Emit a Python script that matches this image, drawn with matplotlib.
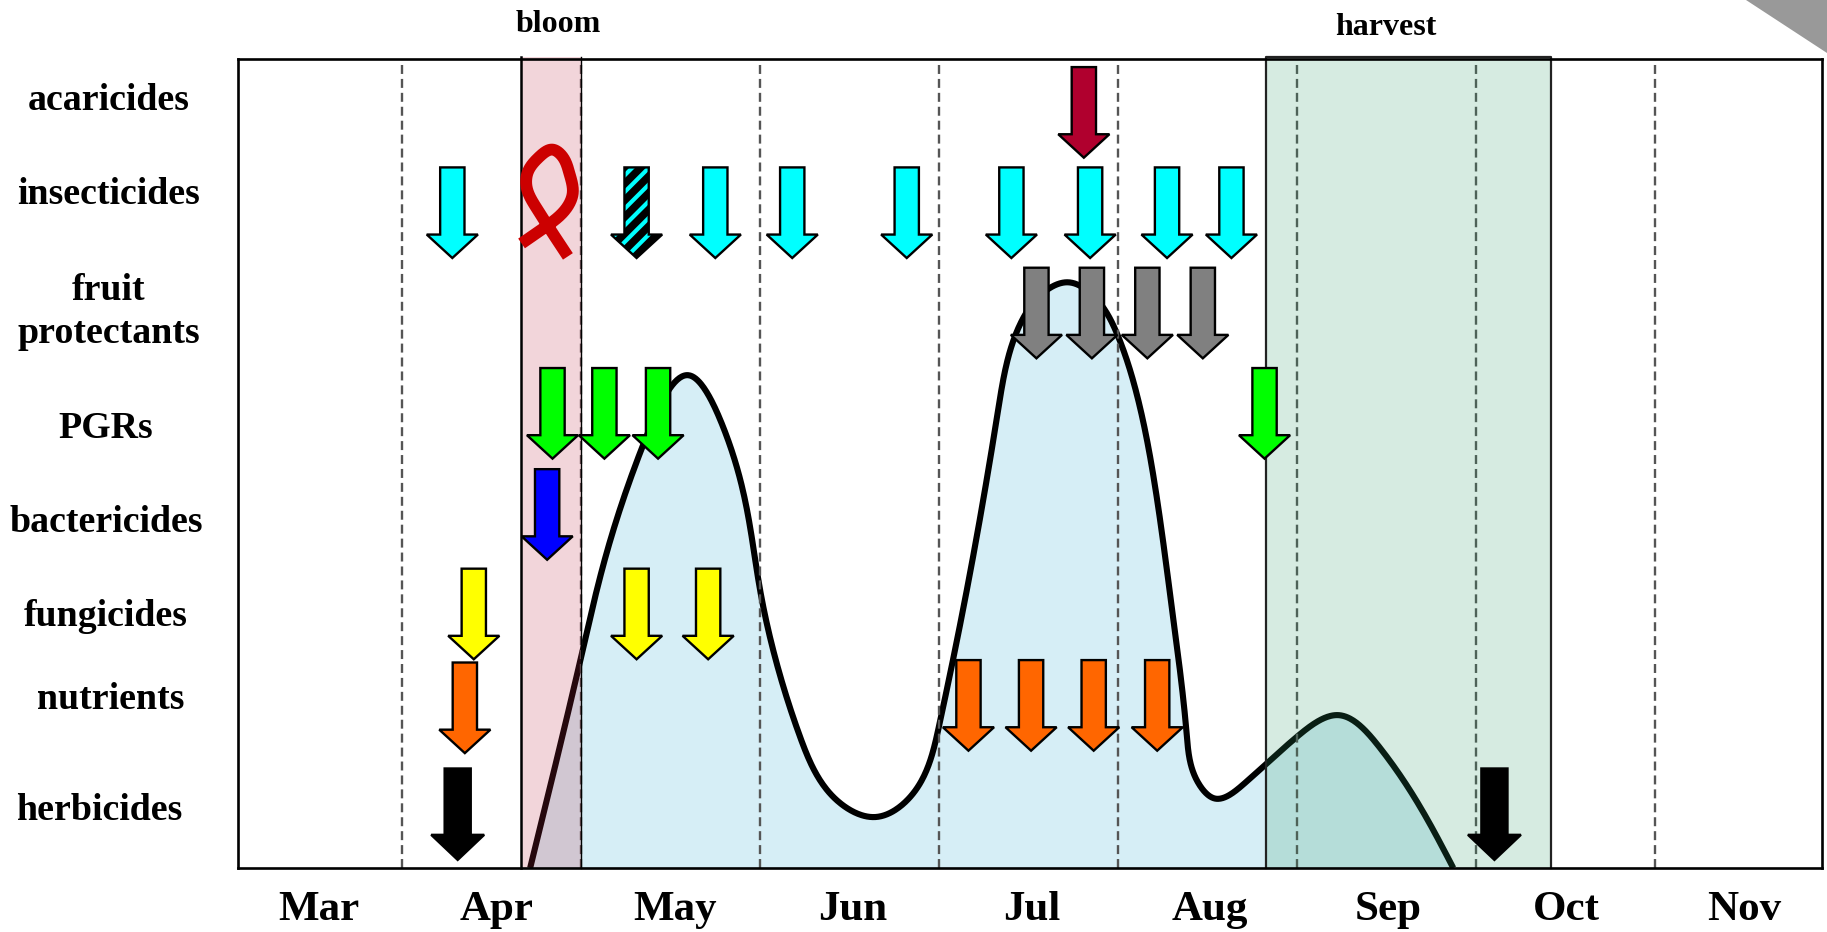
import numpy as np
import matplotlib
matplotlib.use("Agg")
import matplotlib.pyplot as plt
from matplotlib.patches import Polygon

plt.rcParams['font.family'] = ['Liberation Serif', 'DejaVu Serif']
plt.rcParams['hatch.linewidth'] = 3.0

months = ['Mar', 'Apr', 'May', 'Jun', 'Jul', 'Aug', 'Sep', 'Oct', 'Nov']
month_centers = [0.531, 1.527, 2.523, 3.52, 4.516, 5.512, 6.509, 7.505, 8.501]
month_bounds = [1, 2, 3, 4, 5, 6, 7, 8]

curve_x = [1.715, 2.00, 2.35, 2.604, 2.794, 3.00, 3.224, 3.449, 3.645, 3.84, 4.00,
           4.196, 4.33, 4.46, 4.60, 4.72, 4.85, 5.00, 5.11, 5.205, 5.30, 5.385, 5.45, 5.54, 5.71,
           6.00, 6.23, 6.46, 6.875]
curve_y = [0, 26.1, 52.5, 60.9, 54.5, 34.4, 16.2, 8.0, 6.3, 8.8, 17.5,
           39.1, 56.5, 67.5, 71.4, 72.4, 71.0, 65.8, 58.2, 47.6, 32.5, 16.5, 10.5, 8.6, 10.5,
           16.2, 18.9, 15.0, 0]

bloom = (1.665, 2.0)
harvest = (5.83, 7.42)

# (month position, arrow tip height)
acaricides = [(4.81, 87.8)]
insecticides = [(1.28, 75.4), (2.75, 75.4), (3.18, 75.4), (3.82, 75.4), (4.405, 75.4),
                (4.845, 75.4), (5.275, 75.4), (5.635, 75.4)]
insecticides_hatched = [(2.31, 75.4)]
fruit_protectants = [(4.545, 63.0), (4.855, 63.0), (5.165, 63.0), (5.475, 63.0)]
pgrs = [(1.84, 50.6), (2.13, 50.6), (2.43, 50.6), (5.82, 50.6)]
bactericides = [(1.81, 38.1)]
fungicides = [(1.40, 25.8), (2.31, 25.8), (2.71, 25.8)]
nutrients = [(1.35, 14.2), (4.165, 14.5), (4.515, 14.5), (4.865, 14.5), (5.22, 14.5)]
herbicides = [(1.31, 1.0), (7.105, 1.0)]

ribbon_x = [1.667, 1.804, 1.916, 1.953, 1.934, 1.897, 1.84, 1.766, 1.70, 1.695, 1.747, 1.822, 1.926]
ribbon_y = [77.2, 79.3, 81.5, 83.4, 85.9, 87.9, 88.8, 87.9, 85.9, 84.2, 81.7, 79.1, 75.6]

row_labels = [('acaricides', 93, 86), ('insecticides', 93, 167), ('fruit\nprotectants', 93, 268),
              ('PGRs', 91, 368), ('bactericides', 91, 448), ('fungicides', 91, 529),
              ('nutrients', 95, 600), ('herbicides', 85, 696)]

W, H = 1827, 932
fig = plt.figure(figsize=(W / 100, H / 100), dpi=100)
L, R, T, B = 238, 1822, 59, 868
ax = fig.add_axes([L / W, 1 - B / H, (R - L) / W, (B - T) / H])
ax.set_xlim(0.082, 8.936)
ax.set_ylim(0, 100)

# corner triangle
fig.add_artist(Polygon([(1746 / W, 1), (1, 1 - 53 / H), (1, 1)], closed=True,
                       transform=fig.transFigure, fc='#999999', ec='none'))


def smooth(x, y, n=40):
    # natural C2 cubic spline through the read points, parametrised by on-screen chord length
    p = np.column_stack([x, y])
    h = np.linalg.norm(np.diff(p, axis=0) * np.array([178.3, 8.09]), axis=1)
    k = len(p)
    A = np.zeros((k, k))
    b = np.zeros((k, 2))
    A[0, 0] = A[-1, -1] = 1
    for i in range(1, k - 1):
        A[i, i - 1], A[i, i], A[i, i + 1] = h[i - 1], 2 * (h[i - 1] + h[i]), h[i]
        b[i] = 6 * ((p[i + 1] - p[i]) / h[i] - (p[i] - p[i - 1]) / h[i - 1])
    M = np.linalg.solve(A, b)
    out = []
    for i in range(k - 1):
        t = np.linspace(0, 1, n, endpoint=False)[:, None]
        out.append((1 - t) * p[i] + t * p[i + 1]
                   + h[i] ** 2 / 6 * (((1 - t) ** 3 - (1 - t)) * M[i] + (t ** 3 - t) * M[i + 1]))
    out.append(p[-1:])
    return np.vstack(out)


sm = smooth(curve_x, curve_y)
ax.fill(sm[:, 0], np.clip(sm[:, 1], 0, None), fc='#32AAD2', alpha=0.2, ec='none', zorder=1)
ax.plot(sm[:, 0], sm[:, 1], color='black', lw=4.4, zorder=2, solid_capstyle='butt')

for m in month_bounds:
    ax.axvline(m, color='#555555', lw=1.7, ls=(0, (3.8, 2.1)), zorder=2.5)

ax.axvspan(*bloom, ymin=0, ymax=1.003, fc='#BE2D46', alpha=0.2, ec='none', zorder=3, clip_on=False)
ax.axvspan(*harvest, ymin=0, ymax=1.003, fc='#329B69', alpha=0.2, ec='none', zorder=3, clip_on=False)
ax.plot([bloom[0], bloom[0]], [0, 100.3], color='black', lw=1.8, zorder=3.5, clip_on=False)
ax.plot([bloom[1], bloom[1]], [0, 100.3], color='black', lw=1.0, zorder=3.5, clip_on=False)
ax.plot([harvest[0], harvest[0], harvest[1], harvest[1]], [0, 100.3, 100.3, 0],
        color='#222222', lw=1.6, zorder=3.5, clip_on=False)


def arrow(xm, tip, fc, big=False, stripes=False):
    sw, hw, hl, tl = (0.073, 0.148, 3.1, 11.3) if big else (0.068, 0.143, 2.9, 11.2)
    pts = [(xm - sw, tip + tl), (xm + sw, tip + tl), (xm + sw, tip + hl), (xm + hw, tip + hl),
           (xm, tip), (xm - hw, tip + hl), (xm - sw, tip + hl)]
    if stripes:
        ax.add_patch(Polygon(pts, closed=True, fc='black', ec=fc, lw=0, hatch='//', zorder=5))
        fc = 'none'
    ax.add_patch(Polygon(pts, closed=True, fc=fc, ec='black', lw=1.7, zorder=5,
                         joinstyle='miter', clip_on=False))


for xm, tip in acaricides:
    arrow(xm, tip, '#B0002E')
for xm, tip in insecticides:
    arrow(xm, tip, '#00FFFF')
for xm, tip in insecticides_hatched:
    arrow(xm, tip, '#00FFFF', stripes=True)
for xm, tip in fruit_protectants:
    arrow(xm, tip, '#808080')
for xm, tip in pgrs:
    arrow(xm, tip, '#00FF00')
for xm, tip in bactericides:
    arrow(xm, tip, '#0000FF')
for xm, tip in fungicides:
    arrow(xm, tip, '#FFFF00')
for xm, tip in nutrients:
    arrow(xm, tip, '#FF6600')
for xm, tip in herbicides:
    arrow(xm, tip, 'black', big=True)

rb = smooth(ribbon_x, ribbon_y)
ax.plot(rb[:, 0], rb[:, 1], color='#CC0000', lw=8.5, zorder=6, solid_capstyle='butt',
        solid_joinstyle='round', clip_on=False)

for s in ax.spines.values():
    s.set_linewidth(1.9)
    s.set_color('black')
    s.set_zorder(4)

ax.set_yticks([])
ax.set_xticks(month_centers)
ax.set_xticklabels(months, fontsize=31, fontweight='bold')
ax.tick_params(axis='x', length=0, pad=16.5)

scale = W / 1568
for text, xs, ys in row_labels:
    fig.text(xs * scale / W, 1 - ys * scale / H, text, ha='center', va='center', fontsize=27.3,
             fontweight='bold', linespacing=1.3)
ax.text(sum(bloom) / 2 + 0.04, 102.5, 'bloom', ha='center', va='bottom', fontsize=23, fontweight='bold')
ax.text(6.50, 102.1, 'harvest', ha='center', va='bottom', fontsize=23, fontweight='bold')

fig.savefig('out.png', dpi=100, facecolor='white')
